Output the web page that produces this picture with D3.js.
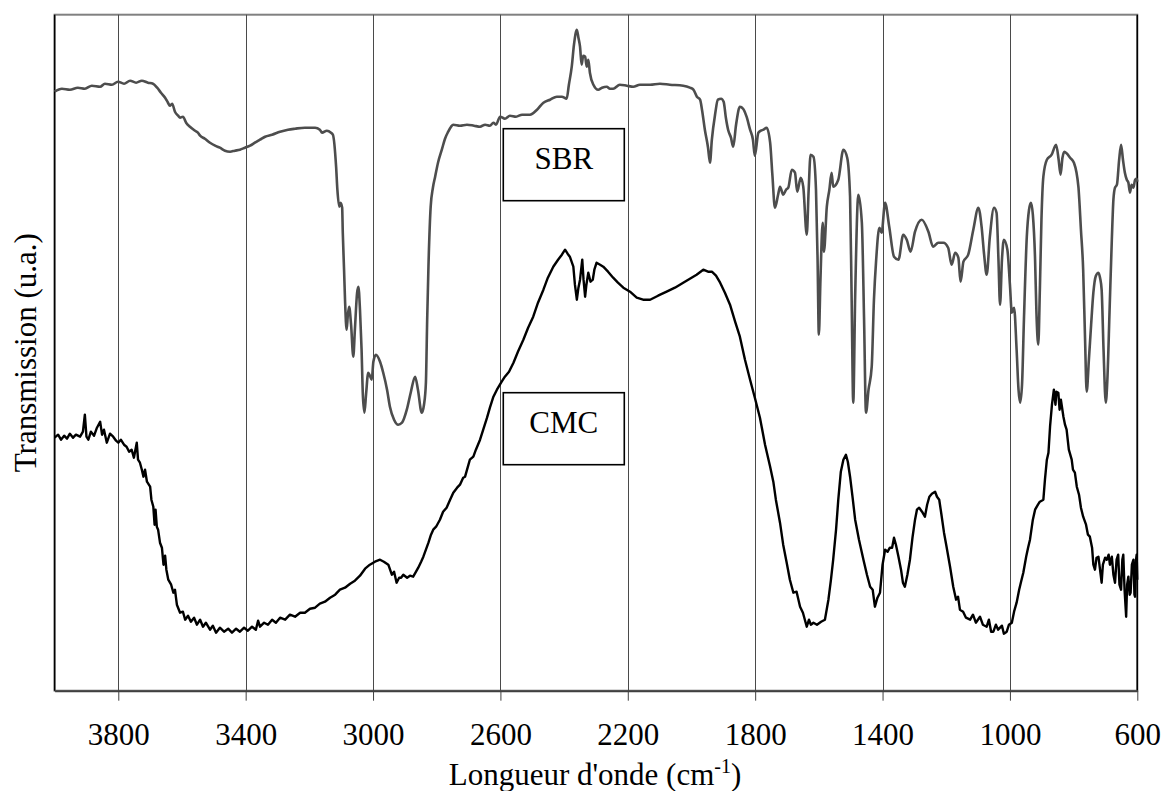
<!DOCTYPE html>
<html><head><meta charset="utf-8">
<script src="https://cdn.jsdelivr.net/npm/d3@7"></script>
<style>html,body{margin:0;padding:0;background:#fff;}svg{display:block;}
svg text{font-family:"Liberation Serif","Times New Roman","DejaVu Serif",serif;}</style>
</head><body>
<svg id="chart" width="1166" height="791"></svg>
<script>
// Axis ticks (wavenumber, cm-1)
const xTicks = [3800, 3400, 3000, 2600, 2200, 1800, 1400, 1000, 600];
const xLabel = "Longueur d'onde (cm";
const yLabel = "Transmission (u.a.)";
const seriesNames = ["SBR", "CMC"];

// SBR spectrum: [wavenumber, transmission (a.u.)]
const sbrWn = [4000,3977,3952,3927,3905,3883,3857,3842,3820,3801,3782,3763,3744,3726,3707,3691,3678,3666,3653,3644,3638,3631,3622,3612,3606,3597,3587,3575,3559,3550,3543,3528,3512,3496,3481,3465,3449,3434,3418,3402,3386,3371,3355,3339,3317,3292,3267,3245,3214,3182,3167,3160,3145,3132,3126,3116,3112,3106,3102,3097,3095,3091,3088,3083,3079,3075,3069,3062,3057,3050,3046,3041,3036,3032,3027,3022,3015,3010,3004,2999,2991,2978,2968,2956,2947,2934,2921,2909,2894,2881,2868,2859,2847,2840,2834,2830,2826,2819,2812,2805,2796,2784,2774,2764,2755,2748,2727,2705,2683,2664,2648,2633,2622,2614,2601,2586,2570,2551,2532,2507,2485,2465,2444,2423,2407,2392,2385,2376,2369,2360,2355,2350,2345,2340,2334,2329,2324,2319,2308,2293,2281,2266,2256,2246,2225,2203,2183,2162,2130,2099,2068,2026,2005,1994,1983,1973,1967,1958,1948,1942,1936,1926,1917,1907,1899,1892,1885,1876,1869,1860,1848,1838,1827,1816,1807,1801,1790,1782,1774,1764,1753,1746,1738,1728,1722,1712,1703,1696,1685,1675,1668,1657,1649,1638,1632,1626,1617,1609,1604,1600,1595,1588,1584,1575,1567,1560,1555,1539,1523,1511,1502,1497,1492,1486,1476,1465,1458,1452,1444,1434,1427,1420,1410,1403,1392,1379,1364,1350,1335,1324,1312,1298,1277,1256,1241,1225,1209,1194,1183,1172,1162,1155,1146,1131,1115,1099,1089,1081,1073,1063,1050,1042,1036,1031,1025,1019,1008,1000,994,987,979,973,968,962,956,947,940,934,928,921,917,911,906,901,895,884,869,855,847,841,835,829,821,811,799,785,777,770,764,759,752,745,738,730,722,717,712,706,699,694,687,680,675,670,664,657,651,645,639,633,628,623,618,612,607,602,600];
const sbrT = [59.9,60.2,60.1,60.3,60.2,60.5,60.4,60.7,60.6,60.9,60.7,61.0,60.8,61.0,60.8,60.7,60.3,59.8,59.3,58.8,58.5,58.7,57.9,57.5,57.3,57.4,56.8,56.4,56.0,55.8,55.5,55.2,54.8,54.5,54.3,54.0,53.9,54.0,54.1,54.3,54.5,54.8,55.1,55.4,55.6,55.9,56.1,56.2,56.3,56.3,56.1,55.8,56.0,55.8,55.6,52.4,50.1,48.4,48.8,48.3,45.8,42.1,39.1,36.1,37.6,38.4,36.6,33.4,36.1,39.8,40.4,38.1,34.1,29.6,27.8,29.6,31.8,31.5,31.1,32.9,33.6,32.9,31.8,30.1,28.4,27.1,26.6,26.8,28.1,29.9,31.4,30.1,27.8,28.6,30.8,37.1,42.4,48.4,50.3,51.4,52.8,54.1,55.2,55.9,56.4,56.6,56.5,56.6,56.5,56.4,56.6,56.5,56.8,56.6,57.4,57.2,57.5,57.4,57.6,57.6,58.1,58.8,59.1,59.4,59.4,59.2,60.6,62.4,64.6,66.1,65.3,64.4,62.6,63.5,63.4,62.4,63.1,61.8,60.6,60.1,60.3,60.4,60.2,60.2,60.6,60.5,60.4,60.6,60.6,60.7,60.6,60.5,60.3,60.1,59.4,59.1,58.1,56.1,54.3,52.8,55.1,57.6,59.1,59.2,58.9,57.3,56.1,55.3,54.4,56.6,58.4,58.2,57.4,56.1,55.1,53.5,55.8,56.0,56.1,56.3,54.8,51.6,48.3,49.6,50.4,49.6,50.1,50.3,52.1,51.8,49.9,51.3,50.4,45.6,50.1,53.6,53.4,50.1,43.1,35.6,41.1,46.8,43.9,48.4,50.1,51.8,50.4,51.1,54.1,53.3,49.4,39.1,28.8,39.4,49.6,46.8,37.1,27.8,30.1,32.4,39.1,43.1,46.3,45.8,48.8,46.4,43.4,43.1,45.6,45.1,43.9,45.9,47.1,45.9,44.4,44.8,44.8,44.3,42.6,43.8,43.3,40.9,42.9,43.6,46.1,48.3,46.4,43.6,41.6,45.4,48.3,47.8,43.1,38.6,43.1,45.1,44.1,40.6,37.8,38.3,34.1,30.1,28.8,30.6,37.1,45.4,48.1,48.8,47.6,43.1,38.1,34.6,40.1,47.1,51.4,53.1,53.6,54.6,53.1,51.6,53.3,53.9,53.7,53.3,52.8,50.4,46.1,42.1,35.1,29.9,33.1,36.6,39.8,41.5,41.8,41.3,40.1,34.1,28.8,31.1,38.1,45.1,49.1,50.3,50.6,53.1,54.6,53.1,51.8,51.1,50.8,49.8,50.6,50.3,51.1,51.2,50.9];

// CMC spectrum: [wavenumber, transmission (a.u.)]
const cmcWn = [4000,3989,3980,3970,3961,3952,3942,3933,3920,3911,3905,3900,3894,3886,3876,3867,3857,3851,3845,3836,3826,3816,3807,3800,3792,3782,3774,3766,3758,3751,3742,3738,3732,3726,3721,3716,3710,3700,3696,3690,3686,3683,3679,3675,3669,3663,3658,3653,3649,3643,3634,3627,3622,3616,3606,3597,3590,3581,3572,3562,3553,3543,3534,3525,3512,3503,3493,3481,3468,3455,3443,3430,3418,3405,3393,3380,3368,3361,3355,3342,3330,3317,3305,3292,3276,3261,3245,3229,3214,3198,3182,3167,3151,3135,3119,3104,3088,3072,3057,3041,3025,3010,2994,2978,2966,2952,2941,2934,2926,2918,2912,2905,2893,2884,2874,2865,2858,2849,2842,2834,2826,2818,2811,2802,2790,2780,2769,2758,2748,2736,2727,2717,2711,2703,2696,2685,2677,2664,2654,2642,2633,2622,2611,2596,2586,2573,2559,2545,2528,2513,2497,2482,2465,2451,2434,2419,2407,2397,2389,2382,2371,2366,2360,2355,2350,2343,2339,2334,2330,2324,2317,2310,2305,2298,2287,2277,2262,2246,2231,2214,2193,2172,2152,2130,2105,2078,2052,2026,2005,1984,1963,1948,1936,1923,1910,1895,1879,1863,1848,1832,1816,1801,1785,1769,1753,1743,1735,1722,1712,1701,1691,1680,1670,1659,1650,1638,1631,1625,1617,1606,1593,1581,1570,1562,1555,1546,1539,1531,1523,1515,1509,1502,1494,1486,1474,1460,1449,1439,1431,1424,1416,1408,1400,1392,1384,1377,1370,1364,1358,1350,1342,1336,1330,1322,1314,1306,1298,1292,1285,1276,1267,1260,1253,1245,1235,1229,1222,1215,1207,1199,1188,1178,1169,1163,1157,1147,1138,1125,1116,1107,1094,1085,1073,1066,1059,1052,1044,1037,1031,1025,1019,1010,1003,994,987,979,971,965,958,949,943,937,928,921,912,906,895,890,884,879,874,868,862,857,854,848,844,840,832,827,822,815,806,802,796,790,783,777,770,761,755,749,742,738,733,728,722,717,712,708,701,696,690,686,680,675,670,665,660,656,651,647,644,640,635,632,628,624,621,617,612,609,607,604,602,600];
const cmcT = [25.3,25.6,25.1,25.5,25.2,25.7,25.3,25.6,25.4,25.9,27.6,25.4,25.1,25.9,25.5,26.3,26.9,25.6,26.1,24.8,25.7,25.4,25.0,24.8,25.1,24.6,24.4,23.9,24.1,23.3,24.8,23.1,22.8,22.1,21.4,22.1,20.9,20.4,19.1,18.4,16.6,18.1,16.4,16.1,14.8,14.3,12.6,13.5,12.1,11.1,10.6,9.8,10.1,8.6,7.8,7.9,7.1,7.5,6.9,7.3,6.6,7.1,6.4,6.8,6.1,6.5,5.8,6.3,5.9,6.2,5.8,6.2,5.9,6.3,6.0,6.4,6.1,7.0,6.4,6.8,6.6,7.1,6.8,7.3,7.1,7.6,7.4,7.8,7.8,8.2,8.3,8.7,8.9,9.3,9.6,10.1,10.3,10.7,11.0,11.5,12.2,12.6,12.9,13.1,12.9,12.6,11.6,11.9,10.8,11.3,11.3,11.6,11.3,11.5,11.4,11.9,12.3,12.9,13.4,14.1,14.8,15.6,16.1,16.4,17.1,17.9,18.3,19.1,19.8,20.3,20.6,21.3,21.4,22.3,23.1,23.4,24.1,25.1,26.1,27.3,28.3,29.4,30.1,30.9,31.4,31.9,32.8,33.9,35.1,36.3,37.4,38.8,40.1,41.3,42.4,43.1,43.6,44.1,43.7,43.4,42.4,40.6,39.1,40.3,41.1,43.1,41.1,39.4,40.6,41.8,40.9,41.1,42.1,42.8,42.6,42.4,41.9,41.3,40.8,40.3,39.9,39.3,39.1,39.1,39.5,39.9,40.3,40.8,41.2,41.6,42.1,41.9,41.9,41.5,40.8,39.8,38.6,36.9,35.4,33.1,31.1,29.3,27.3,24.6,22.4,20.9,19.1,16.8,14.6,12.8,11.1,9.8,9.9,8.4,7.8,6.4,7.1,6.6,6.8,6.6,6.9,7.1,9.1,11.1,13.1,16.1,19.1,21.9,23.1,23.6,22.9,21.4,19.3,17.1,15.1,13.1,11.6,10.4,10.1,8.4,9.3,9.8,12.6,14.1,13.9,14.3,14.3,15.3,14.6,13.4,12.1,10.8,10.4,11.6,13.1,15.3,17.1,18.1,18.3,17.9,17.4,18.6,19.4,19.7,19.9,19.4,19.1,17.6,15.8,14.4,12.4,10.4,9.1,9.4,8.1,7.9,7.3,7.1,7.6,6.8,7.4,6.6,6.4,7.1,5.9,5.9,6.6,6.1,6.3,6.5,5.7,5.9,6.6,6.8,7.9,8.8,10.1,10.9,11.8,13.4,14.3,15.1,17.1,18.1,18.6,18.9,19.1,21.1,23.1,23.8,26.4,28.6,30.1,28.6,29.9,29.8,28.1,29.1,27.4,26.6,26.1,24.1,23.1,22.1,21.8,20.4,19.6,18.3,17.4,16.6,15.6,15.4,14.3,12.6,12.1,13.3,13.4,12.1,10.8,12.6,13.3,13.1,13.6,12.6,13.4,11.6,10.8,13.1,13.6,10.6,10.1,13.1,13.6,10.1,7.4,10.6,11.4,9.6,9.8,12.6,13.1,9.6,9.4,13.1,13.6,11.1];

const M = {left: 54.6, right: 1137.3, top: 14.7, bottom: 690.7};
const svg = d3.select("#chart");
const FONT = '"Liberation Serif","Times New Roman","DejaVu Serif",serif';

const x = d3.scaleLinear().domain([4000, 600]).range([M.left, M.right]);
const y = d3.scaleLinear().domain([0, 67.6]).range([M.bottom, M.top]);

// plot frame
svg.append("rect").attr("x", M.left).attr("y", M.top)
  .attr("width", M.right - M.left).attr("height", M.bottom - M.top)
  .attr("fill", "none").attr("stroke", "#808080").attr("stroke-width", 2);

// vertical gridlines
svg.append("g").selectAll("line").data(xTicks.filter(d => d !== 600)).join("line")
  .attr("x1", d => Math.round(x(d)) + 0.5).attr("x2", d => Math.round(x(d)) + 0.5)
  .attr("y1", M.top).attr("y2", M.bottom)
  .attr("stroke", "#4a4a4a").attr("stroke-width", 1);

// left & right borders
svg.append("line").attr("x1", M.left).attr("x2", M.left).attr("y1", M.top).attr("y2", M.bottom)
  .attr("stroke", "#000").attr("stroke-width", 1.5);
svg.append("line").attr("x1", M.right).attr("x2", M.right).attr("y1", M.top).attr("y2", M.bottom)
  .attr("stroke", "#000").attr("stroke-width", 1.5);

// x axis
const xAxis = d3.axisBottom(x).tickValues(xTicks).tickFormat(d3.format("d"))
  .tickSize(10).tickSizeOuter(0).tickPadding(22);
const gx = svg.append("g").attr("transform", `translate(0,${M.bottom})`).call(xAxis)
  .attr("font-family", null).attr("font-size", null);
gx.select(".domain").attr("stroke", "#404040").attr("stroke-width", 2);
gx.selectAll(".tick line").attr("stroke", "#404040").attr("stroke-width", 1);
gx.selectAll(".tick text").style("font-family", FONT).style("font-size", "31px").attr("fill", "#000");

// x title
const xt = svg.append("text").attr("x", 595).attr("y", 785).attr("text-anchor", "middle")
  .style("font-family", FONT).style("font-size", "31px").attr("fill", "#000");
xt.append("tspan").text(xLabel);
xt.append("tspan").attr("dy", -12).style("font-size", "20px").text("-1");
xt.append("tspan").attr("dy", 12).text(")");

// y title
svg.append("text").attr("transform", `translate(36,${(M.top + M.bottom) / 2}) rotate(-90)`)
  .attr("text-anchor", "middle").style("font-family", FONT).style("font-size", "31px").attr("fill", "#000")
  .text(yLabel);

// curves
const sbr = sbrWn.map((w, i) => [w, sbrT[i]]);
const cmc = cmcWn.map((w, i) => [w, cmcT[i]]);

svg.append("path").datum(sbr)
  .attr("d", d3.line().x(d => x(d[0])).y(d => y(d[1])).curve(d3.curveMonotoneX))
  .attr("fill", "none").attr("stroke", "#4d4d4d").attr("stroke-width", 2.6).attr("stroke-linejoin", "round");
svg.append("path").datum(cmc)
  .attr("d", d3.line().x(d => x(d[0])).y(d => y(d[1])))
  .attr("fill", "none").attr("stroke", "#000").attr("stroke-width", 2.4).attr("stroke-linejoin", "round");

// label boxes (position given in data space)
const labelBoxes = [
  {name: seriesNames[0], wnL: 2591, wnR: 2211, tTop: 56.2, tBot: 49.0},
  {name: seriesNames[1], wnL: 2591, wnR: 2211, tTop: 29.8, tBot: 22.6}
];
labelBoxes.forEach(b => {
  const x0 = x(b.wnL), x1 = x(b.wnR), y0 = y(b.tTop), y1 = y(b.tBot);
  svg.append("rect").attr("x", x0).attr("y", y0).attr("width", x1 - x0).attr("height", y1 - y0)
    .attr("fill", "#fff").attr("stroke", "#000").attr("stroke-width", 1.6);
  svg.append("text").attr("x", (x0 + x1) / 2).attr("y", (y0 + y1) / 2 + 4)
    .attr("text-anchor", "middle").style("font-family", FONT).style("font-size", "31px").attr("fill", "#000")
    .text(b.name);
});
</script>
</body></html>
